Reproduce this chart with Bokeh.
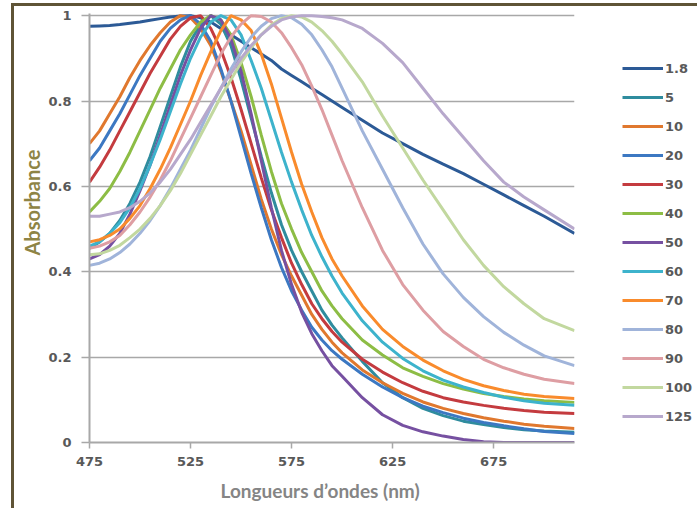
from bokeh.plotting import figure
from bokeh.models import Range1d, FixedTicker, Legend, LegendItem, Title
from bokeh.embed import file_html
from bokeh.resources import INLINE

# Wavelengths (nm)
WL = [475, 480, 485, 490, 495, 500, 505, 510, 515, 520, 525,
      530, 535, 540, 545, 550, 555, 560, 565, 570, 575, 580, 585, 590, 595, 600,
      610, 620, 630, 640, 650, 660, 670, 680, 690, 700, 715]

# Normalised absorbance per particle size (nm)
a1_8 = [0.975, 0.976, 0.977, 0.979, 0.982, 0.985, 0.989, 0.993, 0.997, 0.999, 1.0,
        0.995, 0.985, 0.97, 0.955, 0.94, 0.925, 0.91, 0.895, 0.875, 0.86, 0.845, 0.83, 0.815, 0.80, 0.785,
        0.755, 0.725, 0.70, 0.675, 0.652, 0.63, 0.605, 0.58, 0.555, 0.53, 0.49]
a5 = [0.455, 0.47, 0.49, 0.52, 0.56, 0.61, 0.67, 0.74, 0.81, 0.88, 0.94,
      0.98, 1.0, 0.98, 0.93, 0.85, 0.76, 0.67, 0.585, 0.51, 0.45, 0.40, 0.355, 0.31, 0.275, 0.245,
      0.19, 0.14, 0.105, 0.08, 0.063, 0.05, 0.042, 0.035, 0.03, 0.027, 0.024]
a10 = [0.70, 0.73, 0.77, 0.81, 0.855, 0.895, 0.93, 0.96, 0.985, 1.0, 0.995,
       0.97, 0.93, 0.87, 0.80, 0.73, 0.65, 0.57, 0.50, 0.44, 0.39, 0.345, 0.30, 0.265, 0.235, 0.21,
       0.17, 0.14, 0.115, 0.095, 0.08, 0.068, 0.058, 0.05, 0.043, 0.038, 0.033]
a20 = [0.66, 0.69, 0.73, 0.77, 0.815, 0.86, 0.90, 0.94, 0.97, 0.99, 1.0,
       0.98, 0.94, 0.875, 0.80, 0.715, 0.63, 0.55, 0.475, 0.41, 0.355, 0.31, 0.27, 0.24, 0.215, 0.195,
       0.16, 0.13, 0.105, 0.085, 0.07, 0.057, 0.047, 0.039, 0.032, 0.026, 0.021]
a30 = [0.61, 0.645, 0.685, 0.73, 0.775, 0.82, 0.865, 0.905, 0.945, 0.975, 0.995,
       1.0, 0.97, 0.92, 0.855, 0.78, 0.70, 0.62, 0.545, 0.48, 0.42, 0.37, 0.325, 0.29, 0.26, 0.235,
       0.195, 0.165, 0.14, 0.12, 0.105, 0.095, 0.087, 0.08, 0.075, 0.071, 0.068]
a40 = [0.54, 0.565, 0.595, 0.635, 0.68, 0.73, 0.78, 0.83, 0.875, 0.92, 0.955,
       0.985, 1.0, 0.99, 0.955, 0.89, 0.81, 0.72, 0.635, 0.56, 0.50, 0.445, 0.40, 0.355, 0.32, 0.29,
       0.24, 0.205, 0.175, 0.155, 0.138, 0.125, 0.115, 0.108, 0.102, 0.098, 0.094]
a50 = [0.43, 0.44, 0.46, 0.49, 0.535, 0.59, 0.65, 0.72, 0.79, 0.86, 0.92,
       0.97, 1.0, 0.99, 0.945, 0.87, 0.77, 0.66, 0.55, 0.45, 0.37, 0.305, 0.255, 0.215, 0.18, 0.155,
       0.105, 0.065, 0.04, 0.025, 0.015, 0.007, 0.002, 0.0, 0.0, 0.0, 0.0]
a60 = [0.46, 0.47, 0.49, 0.515, 0.55, 0.595, 0.65, 0.71, 0.775, 0.84, 0.90,
       0.95, 0.985, 1.0, 0.99, 0.955, 0.895, 0.83, 0.755, 0.68, 0.61, 0.545, 0.485, 0.435, 0.39, 0.35,
       0.285, 0.235, 0.197, 0.168, 0.146, 0.13, 0.117, 0.106, 0.098, 0.092, 0.087]
a70 = [0.47, 0.475, 0.485, 0.50, 0.525, 0.555, 0.595, 0.64, 0.69, 0.745, 0.80,
       0.86, 0.915, 0.965, 1.0, 0.99, 0.965, 0.91, 0.84, 0.76, 0.68, 0.605, 0.54, 0.48, 0.43, 0.39,
       0.32, 0.265, 0.225, 0.193, 0.168, 0.148, 0.133, 0.122, 0.113, 0.108, 0.103]
a80 = [0.415, 0.42, 0.43, 0.445, 0.465, 0.49, 0.52, 0.555, 0.595, 0.64, 0.685,
       0.735, 0.785, 0.83, 0.875, 0.915, 0.95, 0.975, 0.993, 1.0, 0.995, 0.98, 0.955, 0.92, 0.88, 0.83,
       0.73, 0.64, 0.55, 0.465, 0.395, 0.34, 0.295, 0.258, 0.228, 0.203, 0.18]
a90 = [0.455, 0.46, 0.47, 0.485, 0.51, 0.54, 0.575, 0.615, 0.66, 0.71, 0.76,
       0.81, 0.86, 0.91, 0.95, 0.98, 1.0, 0.998, 0.985, 0.96, 0.925, 0.885, 0.835, 0.78, 0.72, 0.66,
       0.55, 0.45, 0.37, 0.31, 0.26, 0.225, 0.195, 0.175, 0.16, 0.148, 0.138]
a100 = [0.44, 0.442, 0.45, 0.462, 0.48, 0.50, 0.525, 0.555, 0.59, 0.63, 0.675,
        0.72, 0.765, 0.81, 0.85, 0.89, 0.925, 0.955, 0.978, 0.993, 1.0, 0.997, 0.985, 0.965, 0.94, 0.91,
        0.845, 0.765, 0.69, 0.615, 0.545, 0.475, 0.415, 0.365, 0.325, 0.29, 0.262]
a125 = [0.53, 0.53, 0.535, 0.54, 0.55, 0.565, 0.585, 0.61, 0.64, 0.675, 0.71,
        0.75, 0.79, 0.83, 0.865, 0.90, 0.93, 0.955, 0.975, 0.99, 0.997, 1.0, 1.0, 0.998, 0.995, 0.99,
        0.97, 0.935, 0.89, 0.83, 0.77, 0.715, 0.66, 0.61, 0.575, 0.545, 0.50]

SIZES = ["1.8", "5", "10", "20", "30", "40", "50", "60", "70", "80", "90", "100", "125"]
SERIES = [a1_8, a5, a10, a20, a30, a40, a50, a60, a70, a80, a90, a100, a125]
COLORS = ["#2C5A96", "#2F8C9E", "#E0782E", "#3C78C2", "#C43B3F", "#8DBD45", "#7650A1",
          "#3DB3CC", "#F98B2C", "#A0B4DA", "#DE9EA3", "#C2D89F", "#B7A8CC"]

X_TICKS = [475, 525, 575, 625, 675]
Y_TICKS = [0, 0.2, 0.4, 0.6, 0.8, 1]
Y_LABELS = {0: "0", 0.2: "0.2", 0.4: "0.4", 0.6: "0.6", 0.8: "0.8", 1: "1"}

GRID = "#A8A8A8"
TXT = "#595959"

p = figure(frame_width=485, frame_height=429, output_backend="svg", toolbar_location=None,
           x_range=Range1d(475, 715), y_range=Range1d(0, 1.005),
           min_border_left=75, min_border_right=120, min_border_top=7, min_border_bottom=60)
p.outline_line_color = None
p.styles = {"border-top": "3px solid #5F5436", "border-left": "3px solid #5F5436",
            "margin-left": "11px", "margin-top": "3px"}

p.xgrid.visible = False
p.ygrid.ticker = FixedTicker(ticks=Y_TICKS)
p.ygrid.grid_line_color = GRID
p.ygrid.grid_line_width = 1.5

for ax in (p.xaxis[0], p.yaxis[0]):
    ax.axis_line_color = GRID
    ax.axis_line_width = 2
    ax.major_tick_line_color = GRID
    ax.major_tick_line_width = 1.5
    ax.major_tick_in = 0
    ax.minor_tick_line_color = None
    ax.major_label_text_font = "DejaVu Sans"
    ax.major_label_text_font_style = "bold"
    ax.major_label_text_font_size = "13px"
    ax.major_label_text_color = TXT

p.xaxis.ticker = FixedTicker(ticks=X_TICKS)
p.xaxis.major_tick_out = 6
p.xaxis.major_label_standoff = 8
p.yaxis.ticker = FixedTicker(ticks=Y_TICKS)
p.yaxis.major_label_overrides = Y_LABELS
p.yaxis.major_tick_out = 8
p.yaxis.major_label_standoff = 10

items = []
for name, ys, col in zip(SIZES, SERIES, COLORS):
    r = p.line(WL, ys, line_color=col, line_width=3)
    items.append(LegendItem(label=name, renderers=[r]))

legend = Legend(items=items, location=(48, 16), padding=0, margin=0,
                border_line_alpha=0, background_fill_alpha=0,
                glyph_width=41, glyph_height=20, label_height=20, spacing=9,
                label_standoff=2, label_text_font="DejaVu Sans",
                label_text_font_style="bold", label_text_font_size="13px",
                label_text_color=TXT)
p.add_layout(legend, "right")

p.add_layout(Title(text="Longueurs d\u2019ondes (nm)", align="left", offset=131,
                   text_font="Lato", text_font_style="bold", text_font_size="19px",
                   text_color="#858585", standoff=17), "below")
p.add_layout(Title(text="Absorbance", align="left", offset=187,
                   text_font="Lato", text_font_style="bold", text_font_size="20px",
                   text_color="#8E8445", standoff=4), "left")

open("out.html", "w").write(file_html(p, INLINE))
